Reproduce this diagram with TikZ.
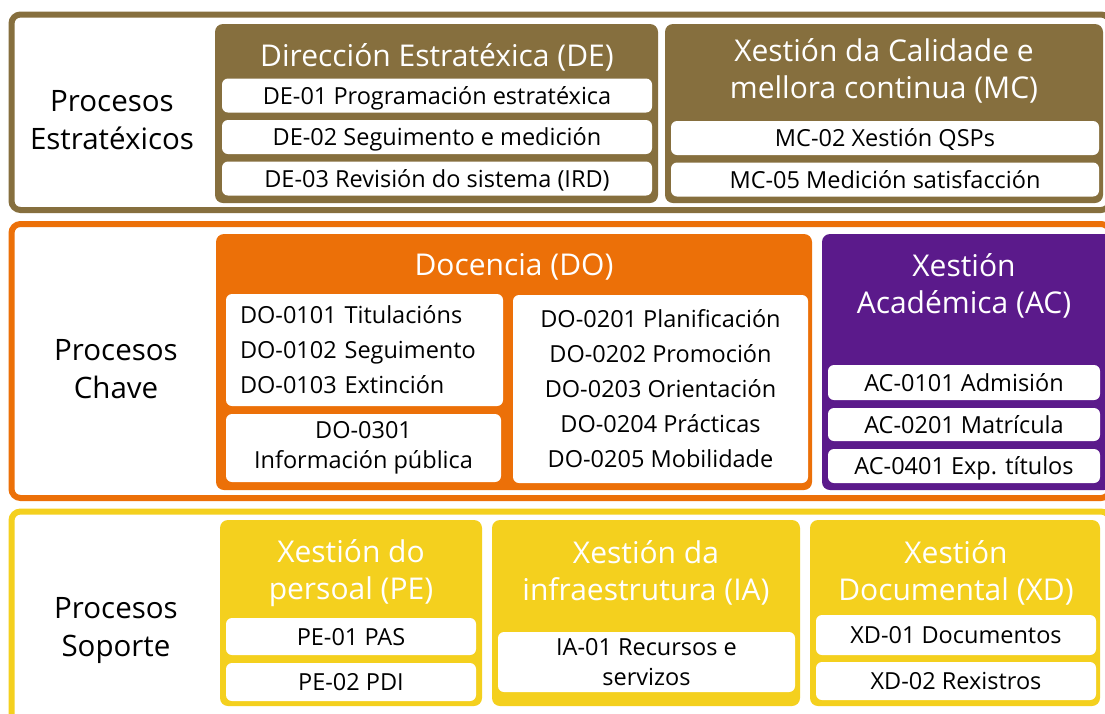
\documentclass[tikz,border=0pt]{standalone}
\usepackage{fontspec}
\setmainfont{Open Sans}

\definecolor{strbrown}{RGB}{134,111,62}
\definecolor{keyorange}{RGB}{236,112,8}
\definecolor{acpurple}{RGB}{91,26,139}
\definecolor{supyellow}{RGB}{244,208,30}

\newcommand{\itemfont}{\fontsize{23.5}{35}\selectfont}
\newcommand{\titlefont}{\fontsize{30}{37}\selectfont}
\newcommand{\lblfont}{\fontsize{29.5}{38}\selectfont}

\tikzset{
  band/.style={rounded corners=9pt, line width=6pt},
  grp/.style={rounded corners=8pt},
  item/.style={fill=white, rounded corners=6pt, inner sep=0pt, align=center, font=\itemfont},
  oneline/.style={item, text height=21, text depth=4},
  grptitle/.style={text=white, align=center, font=\titlefont},
  lbl/.style={align=center, font=\lblfont},
}

\begin{document}
\begin{tikzpicture}[x=1pt, y=-1pt]
  \useasboundingbox (0,0) rectangle (1105,713);
  \fill[white] (0,0) rectangle (1105,713);

  % bands
  \draw[band, strbrown]  (11.5,14.5) rectangle (1110,210);
  \draw[band, keyorange] (11.5,224)  rectangle (1110,498);
  \draw[band, supyellow] (11.5,511.5) rectangle (1110,740);

  \node[lbl] (pest) at (112,120) {Procesos\\Estratéxicos};
  \node[lbl] (pcha) at (116,369) {Procesos\\Chave};
  \node[lbl] (psop) at (116,631) {Procesos\\Soporte};

  % Procesos estratexicos
  \fill[grp, strbrown] (215,24) rectangle (658,203);
  \node[grptitle] (de) at (437,57) {Dirección Estratéxica (DE)};
  \node[oneline, minimum width=430, minimum height=34] (de1) at (437,95.5) {DE-01 Programación estratéxica};
  \node[oneline, minimum width=430, minimum height=34] (de2) at (437,137) {DE-02 Seguimento e medición};
  \node[oneline, minimum width=430, minimum height=34] (de3) at (437,178.5) {DE-03 Revisión do sistema (IRD)};

  \fill[grp, strbrown] (665,24) rectangle (1103,203);
  \node[grptitle] (mc) at (884,71) {Xestión da Calidade e\\mellora continua (MC)};
  \node[oneline, minimum width=428, minimum height=34] (mc2) at (885,138) {MC-02 Xestión QSPs};
  \node[oneline, minimum width=428, minimum height=34] (mc5) at (885,179.5) {MC-05 Medición satisfacción};

  % Procesos chave
  \fill[grp, keyorange] (216,234) rectangle (812,490);
  \node[grptitle] (do) at (514,267) {Docencia (DO)};
  \node[item, minimum width=277, minimum height=112, align=left, text width=249, inner xsep=14] (do1) at (364.5,350) {DO-0101 Titulacións\\DO-0102 Seguimento\\DO-0103 Extinción};
  \node[item, minimum width=275, minimum height=68, font=\fontsize{23.5}{30}\selectfont] (do3) at (363.5,448) {DO-0301\\Información pública};
  \node[item, minimum width=295, minimum height=188] (do2) at (660.5,389) {DO-0201 Planificación\\DO-0202 Promoción\\DO-0203 Orientación\\DO-0204 Prácticas\\DO-0205 Mobilidade};

  \fill[grp, acpurple] (822,234) rectangle (1112,490);
  \node[grptitle] (ac) at (964,286) {Xestión\\Académica (AC)};
  \node[oneline, minimum width=272, minimum height=35] (ac1) at (964,382.5) {AC-0101 Admisión};
  \node[oneline, minimum width=272, minimum height=33] (ac2) at (964,424.5) {AC-0201 Matrícula};
  \node[oneline, minimum width=272, minimum height=34] (ac4) at (964,466) {AC-0401 Exp. títulos};

  % Procesos soporte
  \fill[grp, supyellow] (220,520) rectangle (482,706);
  \node[grptitle] (pe) at (351,573) {Xestión do\\persoal (PE)};
  \node[oneline, minimum width=250, minimum height=37] (pe1) at (351,636.5) {PE-01 PAS};
  \node[oneline, minimum width=250, minimum height=38] (pe2) at (351,682) {PE-02 PDI};

  \fill[grp, supyellow] (492,520) rectangle (800,706);
  \node[grptitle] (ia) at (646,573) {Xestión da\\infraestrutura (IA)};
  \node[item, minimum width=297, minimum height=60, font=\fontsize{23.5}{30}\selectfont] (ia1) at (646.5,662) {IA-01 Recursos e\\servizos};

  \fill[grp, supyellow] (810,520) rectangle (1100,706);
  \node[grptitle] (xd) at (956,573) {Xestión\\Documental (XD)};
  \node[oneline, minimum width=280, minimum height=40] (xd1) at (956,635) {XD-01 Documentos};
  \node[oneline, minimum width=280, minimum height=38] (xd2) at (956,681) {XD-02 Rexistros};
\end{tikzpicture}
\end{document}
